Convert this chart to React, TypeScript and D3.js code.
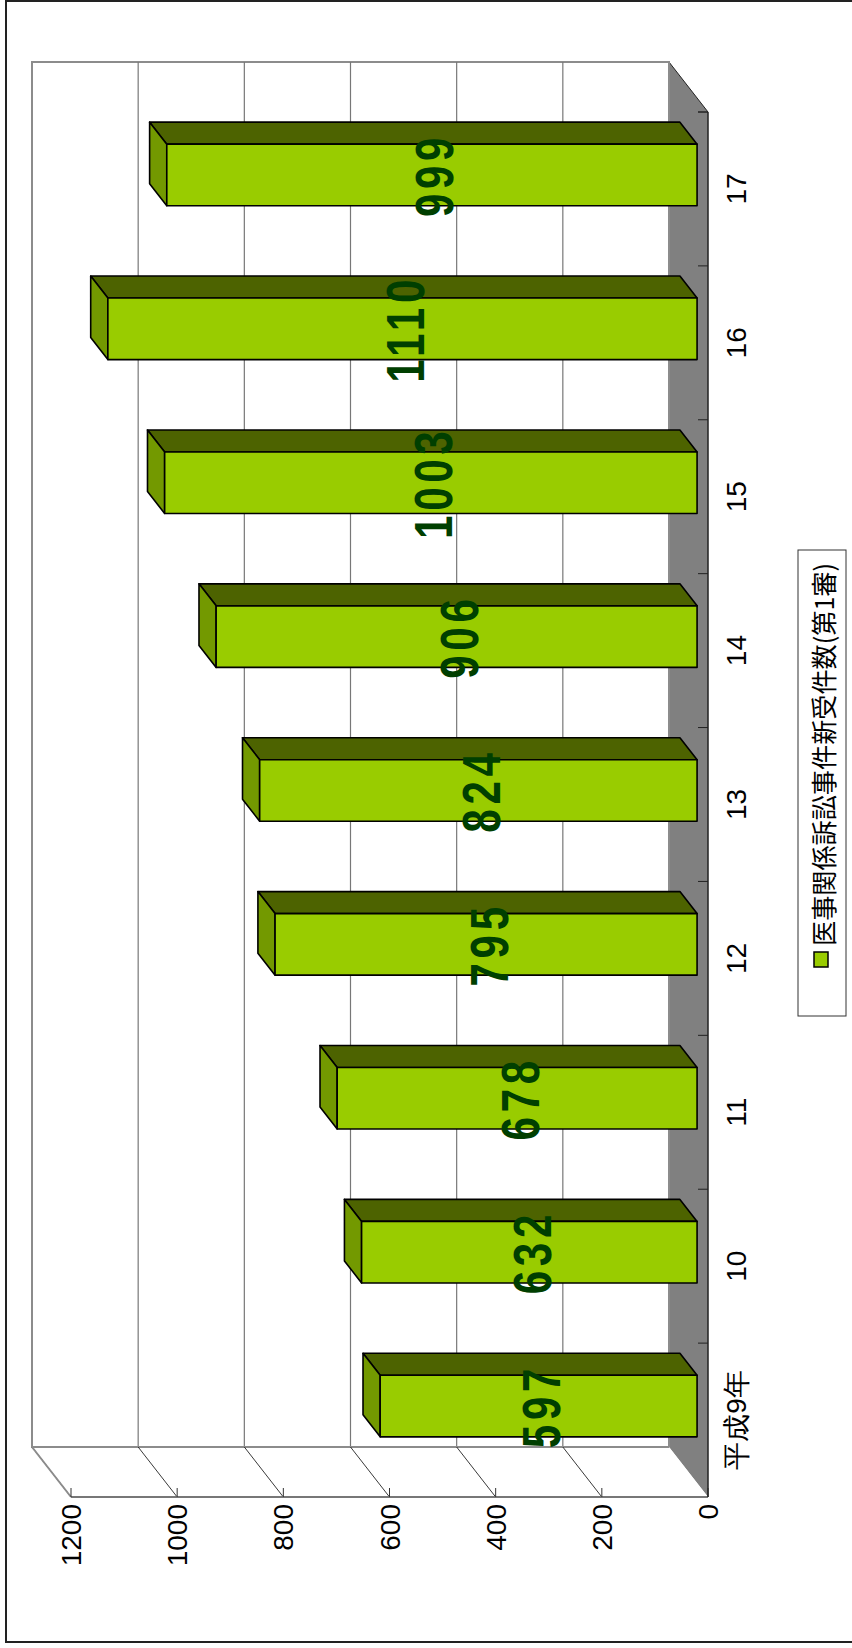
import React from 'react';
import * as d3 from 'd3';

const categories = ["平成9年", "10", "11", "12", "13", "14", "15", "16", "17"];
const values = [597, 632, 678, 795, 824, 906, 1003, 1110, 999];
const valueTicks = [0, 200, 400, 600, 800, 1000, 1200];
const legendLabel = "医事関係訴訟事件新受件数(第1審)";

const width = 852;
const height = 1648;
// back wall (screen coords, the chart is drawn turned a quarter to the left)
const wallLeft = 32;
const wallRight = 669;
const wallTop = 62;
const wallBottom = 1447;
// depth vector from back plane to front plane
const depthX = 39;
const depthY = 50;
const barBackT = 0.28;
const barFrontT = 0.72;
const barHalf = 0.2; // fraction of band

const frontColor = "#99CC00";
const sideColor = "#4D6300";
const topColor = "#739900";
const labelColor = "#003F00";
const floorColor = "#808080";
const axisFont = "'Liberation Sans', Arial, sans-serif";

const App: React.FC = () => {
  const xBack = d3.scaleLinear().domain([0, 1200]).range([wallRight, wallLeft]);
  const yBack = d3.scaleBand<string>().domain(categories).range([wallBottom, wallTop]);
  const bw = yBack.bandwidth();

  const pt = (v: number, y: number, t: number): [number, number] => [xBack(v) + depthX * t, y + depthY * t];
  const poly = (ps: [number, number][]) => ps.map(p => p.join(",")).join(" ");

  const frontY = wallBottom + depthY;
  const frontAxisX = wallRight + depthX;

  return (
    <svg width={width} height={height} style={{position: "absolute", left: 0, top: 0, display: "block", background: "white"}}>
      {/* outer frame, right side is cut off */}
      <rect x={6} y={1} width={900} height={1641} fill="white" stroke="#222" strokeWidth={2}/>

      {/* floor */}
      <polygon points={poly([[wallRight, wallTop], [frontAxisX, wallTop + depthY], [frontAxisX, frontY], [wallRight, wallBottom]])} fill={floorColor}/>
      <line x1={wallRight} y1={wallTop} x2={frontAxisX} y2={wallTop + depthY} stroke="#222" strokeWidth={1}/>

      {/* back wall */}
      <rect x={wallLeft} y={wallTop} width={wallRight - wallLeft} height={wallBottom - wallTop} fill="white" stroke="#8c8c8c" strokeWidth={2}/>
      {valueTicks.filter(v => v > 0 && v < 1200).map(v => (
        <line key={`g${v}`} x1={xBack(v)} x2={xBack(v)} y1={wallTop} y2={wallBottom} stroke="#777" strokeWidth={1.2}/>
      ))}

      {/* side wall (bottom strip) */}
      <polygon points={poly([[wallLeft, wallBottom], [wallRight, wallBottom], [frontAxisX, frontY], [wallLeft + depthX, frontY]])} fill="white"/>
      <line x1={wallLeft} x2={wallRight} y1={wallBottom} y2={wallBottom} stroke="#8c8c8c" strokeWidth={2}/>
      {valueTicks.filter(v => v > 0).map(v => (
        <line key={`d${v}`} x1={xBack(v)} y1={wallBottom} x2={xBack(v) + depthX} y2={frontY} stroke="#222" strokeWidth={0.9}/>
      ))}
      <line x1={wallLeft} y1={wallBottom} x2={wallLeft + depthX} y2={frontY} stroke="#8c8c8c" strokeWidth={2}/>

      {/* value axis on the front */}
      <line x1={wallLeft + depthX} x2={frontAxisX} y1={frontY} y2={frontY} stroke="#777" strokeWidth={2}/>
      {valueTicks.map(v => (
        <g key={`t${v}`}>
          <line x1={xBack(v) + depthX} x2={xBack(v) + depthX} y1={frontY} y2={frontY - 9} stroke="#333" strokeWidth={1}/>
          <text transform={`translate(${xBack(v) + depthX}, ${frontY + 7}) rotate(-90)`} dy="0.36em" textAnchor="end"
            fontFamily={axisFont} fontSize={28} fill="black">{v}</text>
        </g>
      ))}

      {/* category axis */}
      <line x1={frontAxisX} x2={frontAxisX} y1={wallTop + depthY} y2={frontY} stroke="#222" strokeWidth={1.5}/>
      {[...categories.map(c => yBack(c) as number), wallTop].map((y, i) => (
        <line key={`ct${i}`} x1={frontAxisX - 10} x2={frontAxisX} y1={y + depthY} y2={y + depthY} stroke="#222" strokeWidth={1}/>
      ))}
      {categories.map(c => (
        <text key={`cl${c}`} transform={`translate(736, ${(yBack(c) as number) + bw / 2 + depthY}) rotate(-90)`} dy="0.36em"
          textAnchor="middle" fontFamily={axisFont} fontSize={28} fill="black">{c}</text>
      ))}

      {/* bars */}
      {categories.map((c, i) => {
        const v = values[i];
        const yc = (yBack(c) as number) + bw / 2;
        const y0 = yc - barHalf * bw;
        const y1 = yc + barHalf * bw;
        const fTL = pt(v, y0, barFrontT), fTR = pt(0, y0, barFrontT), fBL = pt(v, y1, barFrontT), fBR = pt(0, y1, barFrontT);
        const bTL = pt(v, y0, barBackT), bTR = pt(0, y0, barBackT), bBL = pt(v, y1, barBackT);
        return (
          <g key={`b${c}`} stroke="black" strokeWidth={1.6} strokeLinejoin="round">
            <polygon points={poly([bTL, bTR, fTR, fTL])} fill={sideColor}/>
            <polygon points={poly([bTL, fTL, fBL, bBL])} fill={topColor}/>
            <polygon points={poly([fTL, fTR, fBR, fBL])} fill={frontColor}/>
          </g>
        );
      })}

      {/* data labels: narrow, widely spaced digits */}
      {categories.map((c, i) => {
        const v = values[i];
        const yc = (yBack(c) as number) + bw / 2;
        const [x, y] = pt(v / 2, yc, barFrontT);
        return (
          <text key={`l${c}`} transform={`translate(${x + 2}, ${y}) rotate(-90) scale(0.78, 1)`} dy="0.36em" textAnchor="middle"
            fontFamily={axisFont} fontWeight="bold" fontSize={54} letterSpacing={6} fill={labelColor}>{v}</text>
        );
      })}

      {/* legend */}
      <rect x={798} y={550} width={48} height={466} fill="white" stroke="#333" strokeWidth={1}/>
      <rect x={814} y={952} width={14} height={15} fill={frontColor} stroke="black" strokeWidth={1.5}/>
      <text transform={`translate(825, 946) rotate(-90)`} dy="0.36em" textAnchor="start" textLength={383} lengthAdjust="spacingAndGlyphs"
        fontFamily="'Noto Sans CJK JP', sans-serif" fontSize={26} fill="black">{legendLabel}</text>
    </svg>
  );
};

export default App;
